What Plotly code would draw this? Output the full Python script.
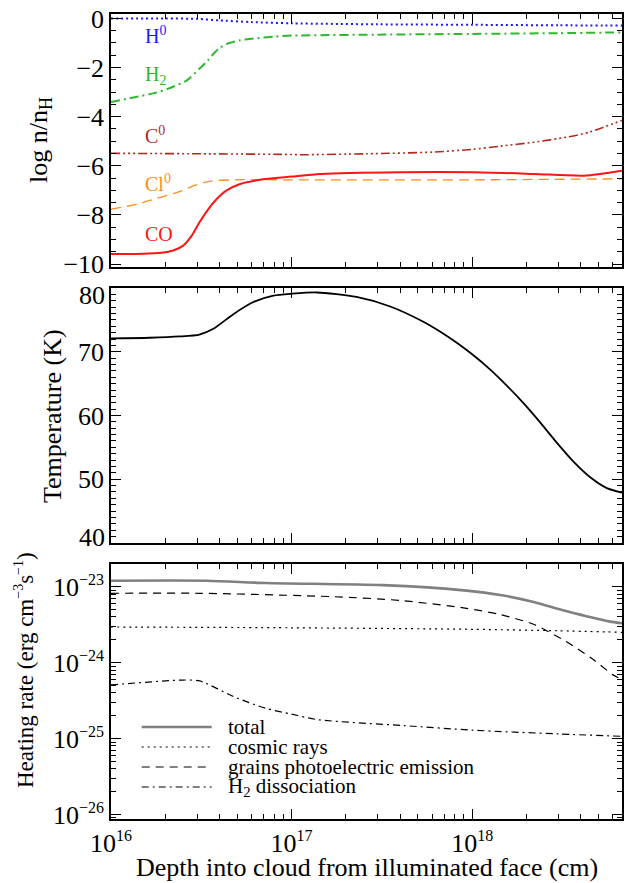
import plotly.graph_objects as go

FONT = "Liberation Serif, Times New Roman, DejaVu Serif, serif"

# ---------------- Panel 1: log n/nH ----------------
h0_depth = [1e16, 2e16, 3e16, 4e16, 6e16, 1e17, 3e17, 1e18, 3e18, 6.76e18]
h0_logn = [0.0, 0.0, -0.02, -0.08, -0.15, -0.20, -0.24, -0.26, -0.28, -0.29]

h2_depth = [1e16, 1.33e16, 1.78e16, 2.04e16, 2.63e16, 3.09e16, 3.45e16, 3.72e16, 4.0e16,
            4.37e16, 5.19e16, 6.17e16, 8e16, 1e17, 3e17, 1e18, 3e18, 6.76e18]
h2_logn = [-3.40, -3.22, -3.02, -2.88, -2.52, -2.05, -1.70, -1.42, -1.20,
           -1.04, -0.89, -0.82, -0.74, -0.70, -0.66, -0.63, -0.60, -0.57]

c0_depth = [1e16, 3e16, 1e17, 1.11e17, 2.61e17, 6.11e17, 1e18, 1.43e18,
            2.19e18, 3.35e18, 4.47e18, 6.76e18]
c0_logn = [-5.49, -5.51, -5.54, -5.55, -5.51, -5.44, -5.33, -5.20,
           -5.04, -4.83, -4.63, -4.15]

cl0_depth = [1e16, 1.4e16, 1.78e16, 2.4e16, 2.9e16, 3.5e16, 4.9e16, 1e17,
             1e18, 6.76e18]
cl0_logn = [-7.76, -7.56, -7.33, -7.05, -6.80, -6.63, -6.57, -6.57,
            -6.57, -6.53]

co_depth = [1e16, 1.5e16, 1.9e16, 2.21e16, 2.51e16, 2.8e16, 3.09e16, 3.47e16,
            3.85e16, 4.37e16, 5.19e16, 6.68e16, 1e17, 1.45e17, 4e17, 1e18,
            2.19e18, 4.17e18, 6.76e18]
co_logn = [-9.59, -9.58, -9.54, -9.45, -9.25, -8.84, -8.30, -7.75,
           -7.35, -7.00, -6.74, -6.57, -6.44, -6.33, -6.26, -6.26,
           -6.33, -6.40, -6.20]

# ---------------- Panel 2: temperature ----------------
t_depth = [1e16, 1.64e16, 2.4e16, 3.09e16, 3.69e16, 4.76e16, 6.15e16, 7.94e16,
           1e17, 1.38e17, 2.29e17, 3.52e17, 5.37e17, 6.6e17, 8.22e17, 1e18,
           1.26e18, 1.58e18, 1.93e18, 2.4e18, 2.95e18, 3.63e18, 4.51e18, 5.57e18, 6.76e18]
t_kelvin = [72.1, 72.2, 72.4, 72.7, 73.6, 75.9, 77.8, 78.8,
            79.1, 79.3, 78.6, 77.1, 74.7, 73.2, 71.4, 69.6,
            67.2, 64.5, 61.9, 58.8, 55.7, 52.8, 50.3, 48.6, 47.9]

# ---------------- Panel 3: heating rates ----------------
tot_depth = [1e16, 3.4e16, 7.2e16, 3.2e17, 9.3e17, 1.43e18, 2.19e18, 3.31e18, 5.75e18, 6.76e18]
tot_rate = [1.20e-23, 1.20e-23, 1.12e-23, 1.05e-23, 8.9e-24, 7.8e-24, 6.3e-24, 4.8e-24, 3.5e-24, 3.3e-24]

cr_depth = [1e16, 1e17, 1e18, 3e18, 6.76e18]
cr_rate = [2.95e-24, 2.88e-24, 2.75e-24, 2.63e-24, 2.51e-24]

pe_depth = [1e16, 3.1e16, 1.7e17, 4e17, 9.3e17, 1.43e18, 2.19e18, 3.31e18, 4.68e18, 6.03e18, 6.76e18]
pe_rate = [8.2e-24, 8.2e-24, 7.4e-24, 6.6e-24, 5.2e-24, 4.3e-24, 3.2e-24, 1.9e-24, 1.1e-24, 6.9e-25, 6.0e-25]

hd_depth = [1e16, 2.5e16, 3.1e16, 4.8e16, 7.2e16, 1e17, 1.38e17, 4.2e17, 1e18, 3e18, 6.76e18]
hd_rate = [5.1e-25, 5.9e-25, 5.75e-25, 3.55e-25, 2.5e-25, 2.1e-25, 1.78e-25, 1.48e-25, 1.29e-25, 1.15e-25, 1.07e-25]

SUP = '<sup><span style="font-size:16px">%s</span></sup>'
SUPS = '<sup><span style="font-size:14px">%s</span></sup>'
x_ticks = [1e16, 1e17, 1e18]
x_ticktext = ["10" + SUP % "16", "10" + SUP % "17", "10" + SUP % "18"]
h_ticks = [1e-26, 1e-25, 1e-24, 1e-23]
h_ticktext = ["10" + SUP % "−26", "10" + SUP % "−25", "10" + SUP % "−24", "10" + SUP % "−23"]
t_ticks = [50, 60, 70]
t_edge_labels = ["80", "40"]

species = ["H<sup>0</sup>", "H<sub>2</sub>", "C<sup>0</sup>", "Cl<sup>0</sup>", "CO"]
species_y = [-0.68, -2.31, -4.76, -6.72, -8.76]
species_col = ["#1a1aff", "#2db82d", "#b22a1e", "#ff8c1a", "#ff1414"]

legend_names = ["total", "cosmic rays", "grains photoelectric emission", "H<sub>2</sub> dissociation"]

fig = go.Figure()

def add(x, y, ax, color, width, dash, smooth=0.7):
    fig.add_trace(go.Scatter(x=x, y=y, mode="lines", xaxis=ax[0], yaxis=ax[1],
                             line=dict(color=color, width=width, dash=dash,
                                       shape="spline", smoothing=smooth),
                             showlegend=False, hoverinfo="skip"))

add(h0_depth, h0_logn, ("x", "y"), species_col[0], 2.0, "2px,3px")
add(h2_depth, h2_logn, ("x", "y"), species_col[1], 2.0, "9px,4px,2px,4px")
add(c0_depth, c0_logn, ("x", "y"), species_col[2], 1.6, "9px,3px,2px,3px,2px,3px,2px,3px")
add(cl0_depth, cl0_logn, ("x", "y"), species_col[3], 1.3, "10px,6px")
add(co_depth, co_logn, ("x", "y"), species_col[4], 2.0, "solid")

add(t_depth, t_kelvin, ("x2", "y2"), "black", 1.8, "solid")

add(tot_depth, tot_rate, ("x3", "y3"), "#808080", 2.6, "solid")
add(cr_depth, cr_rate, ("x3", "y3"), "black", 1.2, "2px,4px")
add(pe_depth, pe_rate, ("x3", "y3"), "black", 1.2, "8px,6px")
add(hd_depth, hd_rate, ("x3", "y3"), "black", 1.2, "7px,4px,2px,4px")

tickfont = dict(family=FONT, size=26, color="black")
minor_x = dict(ticks="inside", ticklen=5, tickwidth=1, tickcolor="black", dtick="D1", showgrid=False)

def xax(anchor, labels):
    return dict(type="log", range=[16, 18.83], tickmode="array", tickvals=x_ticks,
                ticktext=x_ticktext, showticklabels=labels, ticks="inside", ticklen=10,
                tickwidth=1.2, tickcolor="black", mirror="allticks", showline=True,
                linecolor="black", linewidth=1.5, showgrid=False, zeroline=False,
                minor=minor_x, tickfont=tickfont, anchor=anchor, automargin=False)

def yax(domain, anchor, **kw):
    d = dict(domain=domain, anchor=anchor, ticks="inside", ticklen=10, tickwidth=1.2,
             tickcolor="black", mirror="allticks", showline=True, linecolor="black",
             linewidth=1.5, showgrid=False, zeroline=False, tickfont=tickfont,
             automargin=False)
    d.update(kw)
    return d

fig.update_layout(
    template="none",
    width=632, height=883,
    margin=dict(l=111, r=10, t=14, b=64, pad=0),
    paper_bgcolor="white", plot_bgcolor="white",
    font=dict(family=FONT, color="black"),
    xaxis=xax("y", False),
    xaxis2=xax("y2", False),
    xaxis3=xax("y3", True),
    yaxis=yax([0.6857, 1.0], "x", range=[-10.12, 0.18], dtick=2, tick0=0,
              minor=dict(ticks="inside", ticklen=5, tickwidth=1, tickcolor="black", dtick=0.5)),
    yaxis2=yax([0.3429, 0.6596], "x2", range=[40, 80], tickmode="array", tickvals=t_ticks,
               minor=dict(ticks="inside", ticklen=5, tickwidth=1, tickcolor="black",
                          tickmode="linear", tick0=0, dtick=1)),
    yaxis3=yax([0.0, 0.3168], "x3", type="log", range=[-26.06, -22.70], tickmode="array",
               tickvals=h_ticks, ticktext=h_ticktext,
               minor=dict(ticks="inside", ticklen=5, tickwidth=1, tickcolor="black", dtick="D1")),
)

ann = []
# species labels
for name, yv, col in zip(species, species_y, species_col):
    ann.append(dict(x=16.177, y=yv, xref="x", yref="y", text=name, showarrow=False,
                    xanchor="left", yanchor="middle", font=dict(family=FONT, size=20, color=col)))

# outer temperature tick labels, drawn just inside the frame like the original
for lab, py in zip(t_edge_labels, [295, 537]):
    ann.append(dict(x=0, y=(819 - py) / 805, xref="paper", yref="paper", xshift=-4,
                    text=lab, showarrow=False, xanchor="right", yanchor="middle",
                    font=tickfont))

# axis titles
ann.append(dict(x=0, y=(819 - 140) / 805, xref="paper", yref="paper", xshift=40 - 111,
                text="log n/n<sub>H</sub>", textangle=-90, showarrow=False,
                xanchor="center", yanchor="middle", font=dict(family=FONT, size=26)))
ann.append(dict(x=0, y=(819 - 416) / 805, xref="paper", yref="paper", xshift=52 - 111,
                text="Temperature (K)", textangle=-90, showarrow=False,
                xanchor="center", yanchor="middle", font=dict(family=FONT, size=26)))
ann.append(dict(x=0, y=(819 - 670) / 805, xref="paper", yref="paper", xshift=24 - 111,
                text="Heating rate (erg cm" + SUPS % "−3" + "s" + SUPS % "−1" + ")",
                textangle=-90, showarrow=False, xanchor="center", yanchor="middle",
                font=dict(family=FONT, size=23)))
ann.append(dict(x=0.5, y=0, xref="paper", yref="paper", yshift=-(867 - 819),
                text="Depth into cloud from illuminated face (cm)", showarrow=False,
                xanchor="center", yanchor="middle", font=dict(family=FONT, size=26)))

# legend (drawn inside panel 3)
leg_rows = [727, 747, 767, 787]
leg_styles = [("#808080", 2.6, "solid"), ("black", 1.2, "2px,4px"),
              ("black", 1.2, "8px,6px"), ("black", 1.2, "7px,4px,2px,4px")]
shapes = []
for name, py, (col, w, dash) in zip(legend_names, leg_rows, leg_styles):
    yp = (819 - py) / 805
    shapes.append(dict(type="line", xref="paper", yref="paper",
                       x0=(141.7 - 111) / 511, x1=(211.7 - 111) / 511, y0=yp, y1=yp,
                       line=dict(color=col, width=w, dash=dash)))
    ann.append(dict(x=(226 - 111) / 511, y=yp, xref="paper", yref="paper", text=name,
                    showarrow=False, xanchor="left", yanchor="middle",
                    font=dict(family=FONT, size=21)))

fig.update_layout(annotations=ann, shapes=shapes)
fig.write_html("out.html")
